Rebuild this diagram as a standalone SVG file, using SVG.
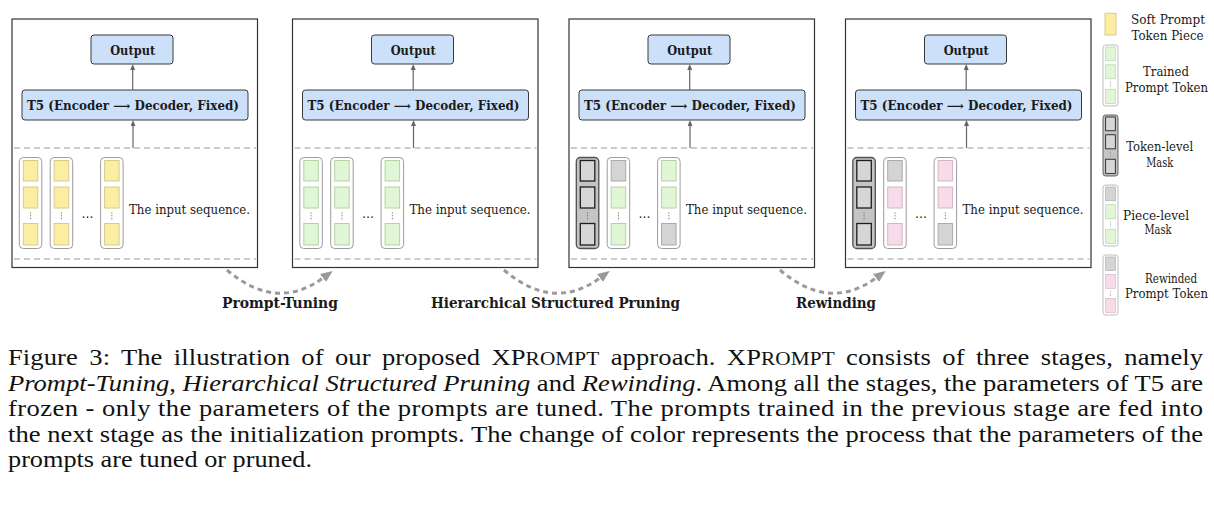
<svg xmlns="http://www.w3.org/2000/svg" xmlns:xlink="http://www.w3.org/1999/xlink" width="1214" height="512" viewBox="0 0 1214 512">
<style>
.panel{fill:#fff;stroke:#333;stroke-width:1.2}
.blue{fill:#cde0fa;stroke:#3a3a3a;stroke-width:1}
.sep{stroke:#9a9a9a;stroke-width:1.2;stroke-dasharray:6 4;fill:none}
.col{fill:#fff;stroke:#9c9c9c;stroke-width:1}
.tcol{fill:#c4c4c4;stroke:#505050;stroke-width:1.3}
.y{fill:#fbeea3;stroke:#d8cc8c;stroke-width:1}
.g{fill:#e0f6d7;stroke:#b4d4a4;stroke-width:1}
.k{fill:#d4d4d4;stroke:#ababab;stroke-width:1}
.p{fill:#f7dbe8;stroke:#d5b5c4;stroke-width:1}
.m{fill:#d6d6d6;stroke:#1e1e1e;stroke-width:1.3}
.dots{stroke:#555;stroke-width:1;stroke-dasharray:1 1.8}
.up{stroke:#666;stroke-width:1.2;fill:none}
.curve{stroke:#9a9a9a;stroke-width:3;stroke-dasharray:5 4;fill:none}
.t{font-family:"DejaVu Serif",serif;fill:#1a1a1a}
.b{font-weight:bold}
.cap{font-family:"Liberation Serif","Times New Roman",serif;font-size:23.5px;fill:#111}
</style>
<defs>
<marker id="sa" viewBox="0 0 6 5" refX="0" refY="2.5" markerWidth="6" markerHeight="5" markerUnits="userSpaceOnUse" orient="auto"><path d="M0,0 L6,2.5 L0,5 z" fill="#666"/></marker>
<marker id="ah" viewBox="0 0 12 10" refX="0" refY="5" markerWidth="12" markerHeight="10" markerUnits="userSpaceOnUse" orient="auto"><path d="M0,0 L12,5 L0,10 z" fill="#9a9a9a"/></marker>
<g id="colY"><rect class="col" x="0" y="0" width="22.5" height="91" rx="4"/><rect class="y" x="4" y="3" width="14.5" height="20.5"/><rect class="y" x="4" y="29.5" width="14.5" height="21"/><line class="dots" x1="11.25" y1="55" x2="11.25" y2="63.5"/><rect class="y" x="4" y="66" width="14.5" height="21.5"/></g>
<g id="colG"><rect class="col" x="0" y="0" width="22.5" height="91" rx="4"/><rect class="g" x="4" y="3" width="14.5" height="20.5"/><rect class="g" x="4" y="29.5" width="14.5" height="21"/><line class="dots" x1="11.25" y1="55" x2="11.25" y2="63.5"/><rect class="g" x="4" y="66" width="14.5" height="21.5"/></g>
<g id="colT"><rect class="tcol" x="0" y="0" width="22.5" height="91" rx="4"/><rect class="m" x="4" y="3" width="14.5" height="20.5"/><rect class="m" x="4" y="29.5" width="14.5" height="21"/><line class="dots" x1="11.25" y1="55" x2="11.25" y2="63.5"/><rect class="m" x="4" y="66" width="14.5" height="21.5"/></g>
<g id="colKGG"><rect class="col" x="0" y="0" width="22.5" height="91" rx="4"/><rect class="k" x="4" y="3" width="14.5" height="20.5"/><rect class="g" x="4" y="29.5" width="14.5" height="21"/><line class="dots" x1="11.25" y1="55" x2="11.25" y2="63.5"/><rect class="g" x="4" y="66" width="14.5" height="21.5"/></g>
<g id="colGGK"><rect class="col" x="0" y="0" width="22.5" height="91" rx="4"/><rect class="g" x="4" y="3" width="14.5" height="20.5"/><rect class="g" x="4" y="29.5" width="14.5" height="21"/><line class="dots" x1="11.25" y1="55" x2="11.25" y2="63.5"/><rect class="k" x="4" y="66" width="14.5" height="21.5"/></g>
<g id="colKPP"><rect class="col" x="0" y="0" width="22.5" height="91" rx="4"/><rect class="k" x="4" y="3" width="14.5" height="20.5"/><rect class="p" x="4" y="29.5" width="14.5" height="21"/><line class="dots" x1="11.25" y1="55" x2="11.25" y2="63.5"/><rect class="p" x="4" y="66" width="14.5" height="21.5"/></g>
<g id="colPPK"><rect class="col" x="0" y="0" width="22.5" height="91" rx="4"/><rect class="p" x="4" y="3" width="14.5" height="20.5"/><rect class="p" x="4" y="29.5" width="14.5" height="21"/><line class="dots" x1="11.25" y1="55" x2="11.25" y2="63.5"/><rect class="k" x="4" y="66" width="14.5" height="21.5"/></g>
<g id="frame">
<rect class="panel" x="0" y="19" width="245.5" height="248.5"/>
<rect class="blue" x="79" y="35" width="82" height="29" rx="3"/>
<text class="t b" x="120.7" y="55" font-size="13" text-anchor="middle" textLength="45" lengthAdjust="spacingAndGlyphs">Output</text>
<rect class="blue" x="10" y="90" width="226" height="30" rx="3"/>
<text class="t b" x="121" y="109.5" font-size="12" text-anchor="middle" textLength="212" lengthAdjust="spacingAndGlyphs">T5 (Encoder ⟶ Decoder, Fixed)</text>
<line class="sep" x1="2" y1="148" x2="244" y2="148"/>
<line class="sep" x1="2" y1="259" x2="244" y2="259"/>
<text class="t" x="75.5" y="218" font-size="12" text-anchor="middle">…</text>
<text class="t" x="117" y="214" font-size="12.5" textLength="121" lengthAdjust="spacingAndGlyphs">The input sequence.</text>
</g>
</defs>

<g id="panel-prompt-tuning" transform="translate(12,0)">
<use xlink:href="#frame" href="#frame"/>
<use xlink:href="#colY" href="#colY" x="7.3" y="157.5"/>
<use xlink:href="#colY" href="#colY" x="38.2" y="157.5"/>
<use xlink:href="#colY" href="#colY" x="88.6" y="157.5"/>
</g>
<g id="panel-trained" transform="translate(292.5,0)">
<use xlink:href="#frame" href="#frame"/>
<use xlink:href="#colG" href="#colG" x="7.3" y="157.5"/>
<use xlink:href="#colG" href="#colG" x="38.2" y="157.5"/>
<use xlink:href="#colG" href="#colG" x="88.6" y="157.5"/>
</g>
<g id="panel-pruned" transform="translate(569,0)">
<use xlink:href="#frame" href="#frame"/>
<use xlink:href="#colT" href="#colT" x="7.3" y="157.5"/>
<use xlink:href="#colKGG" href="#colKGG" x="38.2" y="157.5"/>
<use xlink:href="#colGGK" href="#colGGK" x="88.6" y="157.5"/>
</g>
<g id="panel-rewound" transform="translate(845.5,0)">
<use xlink:href="#frame" href="#frame"/>
<use xlink:href="#colT" href="#colT" x="7.3" y="157.5"/>
<use xlink:href="#colKPP" href="#colKPP" x="38.2" y="157.5"/>
<use xlink:href="#colPPK" href="#colPPK" x="88.6" y="157.5"/>
</g>

<g id="connectors">
<line class="up" x1="132.7" y1="90" x2="132.7" y2="70" marker-end="url(#sa)"/>
<line class="up" x1="133" y1="148" x2="133" y2="126" marker-end="url(#sa)"/>
<line class="up" x1="413.2" y1="90" x2="413.2" y2="70" marker-end="url(#sa)"/>
<line class="up" x1="413.5" y1="148" x2="413.5" y2="126" marker-end="url(#sa)"/>
<line class="up" x1="689.7" y1="90" x2="689.7" y2="70" marker-end="url(#sa)"/>
<line class="up" x1="690" y1="148" x2="690" y2="126" marker-end="url(#sa)"/>
<line class="up" x1="966.2" y1="90" x2="966.2" y2="70" marker-end="url(#sa)"/>
<line class="up" x1="966.5" y1="148" x2="966.5" y2="126" marker-end="url(#sa)"/>
<path class="curve" d="M227,270 Q276,312 323,278" marker-end="url(#ah)"/>
<path class="curve" d="M504,270 Q553,312 600,278" marker-end="url(#ah)"/>
<path class="curve" d="M780,270 Q829,312 876,278" marker-end="url(#ah)"/>
</g>

<g id="stage-labels">
<text class="t b" x="280" y="308" font-size="14" text-anchor="middle" textLength="116" lengthAdjust="spacingAndGlyphs">Prompt-Tuning</text>
<text class="t b" x="555.5" y="308" font-size="14" text-anchor="middle" textLength="249" lengthAdjust="spacingAndGlyphs">Hierarchical Structured Pruning</text>
<text class="t b" x="836" y="308" font-size="14" text-anchor="middle" textLength="80" lengthAdjust="spacingAndGlyphs">Rewinding</text>
</g>

<g id="legend">
<g id="legend-soft-piece">
<rect class="y" x="1105" y="13.3" width="11" height="21.7"/>
<text class="t" x="1168" y="24" font-size="12.5" text-anchor="middle" textLength="74" lengthAdjust="spacingAndGlyphs">Soft Prompt</text>
<text class="t" x="1167.5" y="39.5" font-size="12.5" text-anchor="middle" textLength="72" lengthAdjust="spacingAndGlyphs">Token Piece</text>
</g>
<g id="legend-trained">
<use xlink:href="#colG" href="#colG" transform="translate(1103,45) scale(0.667,0.67)"/>
<text class="t" x="1166" y="76" font-size="12.5" text-anchor="middle" textLength="46" lengthAdjust="spacingAndGlyphs">Trained</text>
<text class="t" x="1166.5" y="92" font-size="12.5" text-anchor="middle" textLength="83" lengthAdjust="spacingAndGlyphs">Prompt Token</text>
</g>
<g id="legend-token-mask">
<use xlink:href="#colT" href="#colT" transform="translate(1103,115) scale(0.667,0.67)"/>
<text class="t" x="1159.7" y="151" font-size="12.5" text-anchor="middle" textLength="67" lengthAdjust="spacingAndGlyphs">Token-level</text>
<text class="t" x="1159.7" y="167" font-size="12.5" text-anchor="middle" textLength="27" lengthAdjust="spacingAndGlyphs">Mask</text>
</g>
<g id="legend-piece-mask">
<use xlink:href="#colKGG" href="#colKGG" transform="translate(1103,185) scale(0.667,0.67)"/>
<text class="t" x="1156" y="219.5" font-size="12.5" text-anchor="middle" textLength="66" lengthAdjust="spacingAndGlyphs">Piece-level</text>
<text class="t" x="1158" y="234" font-size="12.5" text-anchor="middle" textLength="27" lengthAdjust="spacingAndGlyphs">Mask</text>
</g>
<g id="legend-rewinded">
<use xlink:href="#colKPP" href="#colKPP" transform="translate(1103,255) scale(0.667,0.66)"/>
<text class="t" x="1171" y="283" font-size="12.5" text-anchor="middle" textLength="52" lengthAdjust="spacingAndGlyphs">Rewinded</text>
<text class="t" x="1166.5" y="298" font-size="12.5" text-anchor="middle" textLength="83" lengthAdjust="spacingAndGlyphs">Prompt Token</text>
</g>
</g>

<g id="caption" transform="scale(1.132,1)">
<text class="cap" x="7.067" y="365.5" textLength="1055.7" lengthAdjust="spacing" word-spacing="4">Figure 3:  The illustration of our proposed XP<tspan font-size="18.8">ROMPT</tspan> approach.  XP<tspan font-size="18.8">ROMPT</tspan> consists of three stages, namely</text>
<text class="cap" x="7.067" y="391" textLength="1055.7" lengthAdjust="spacing"><tspan font-style="italic">Prompt-Tuning</tspan>, <tspan font-style="italic">Hierarchical Structured Pruning</tspan> and <tspan font-style="italic">Rewinding</tspan>. Among all the stages, the parameters of T5 are</text>
<text class="cap" x="7.067" y="416.5" textLength="1055.7" lengthAdjust="spacing">frozen - only the parameters of the prompts are tuned.  The prompts trained in the previous stage are fed into</text>
<text class="cap" x="7.067" y="442" textLength="1055.7" lengthAdjust="spacing">the next stage as the initialization prompts. The change of color represents the process that the parameters of the</text>
<text class="cap" x="7.067" y="467.5" textLength="268.6" lengthAdjust="spacingAndGlyphs">prompts are tuned or pruned.</text>
</g>
</svg>
